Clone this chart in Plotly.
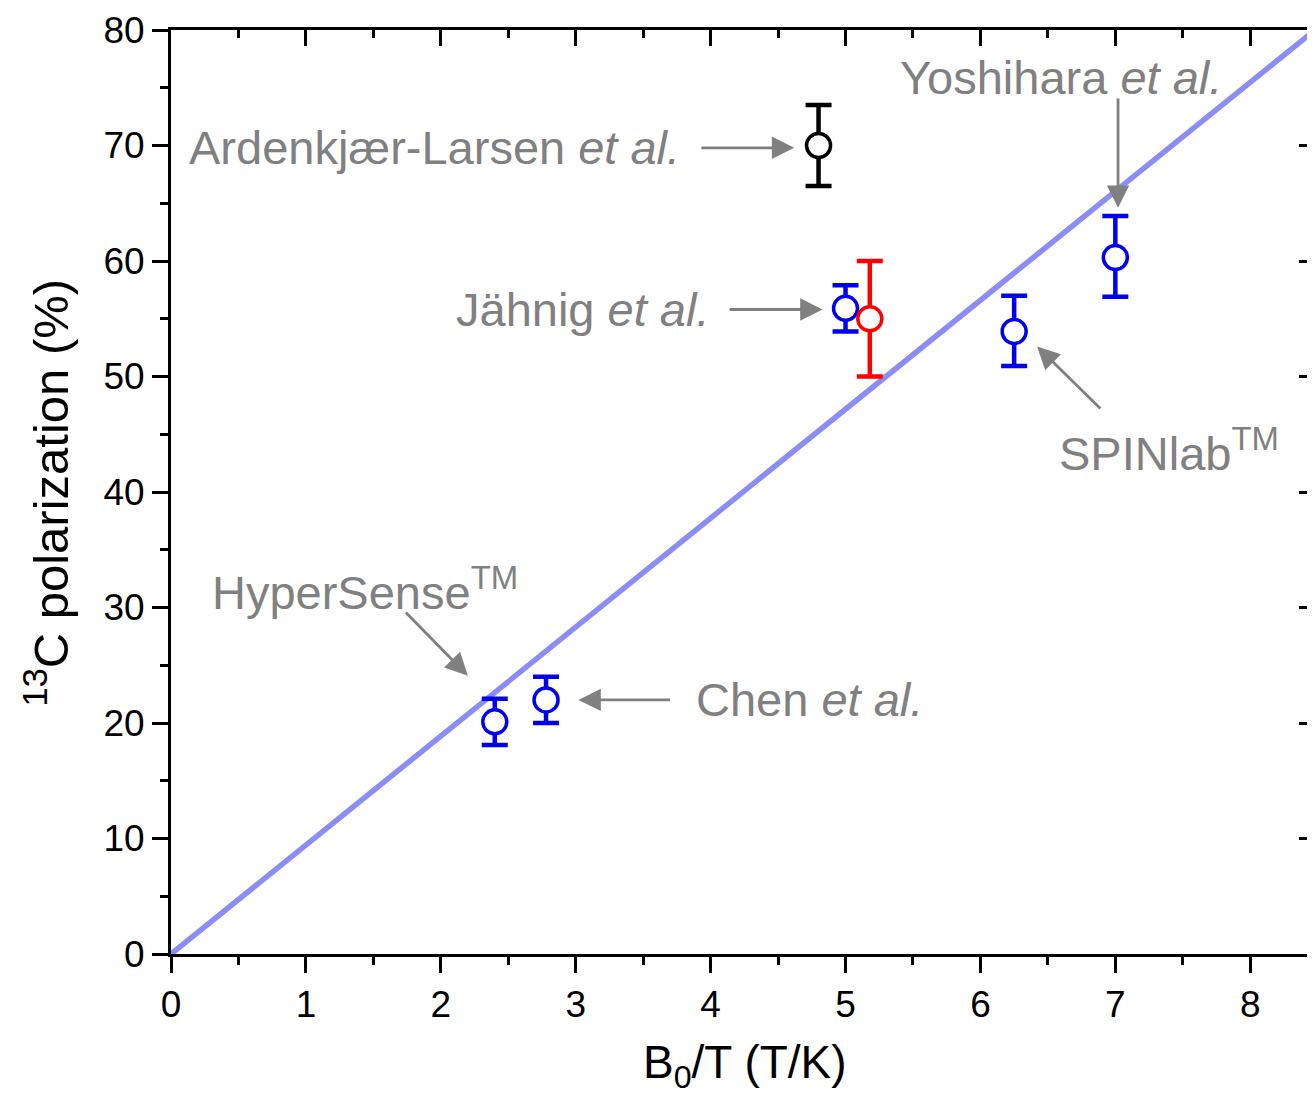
import plotly.graph_objects as go

# ---- data ----
blue_x = [2.4, 2.78, 5.0, 6.25, 7.0]
blue_y = [20.1, 22.0, 55.9, 53.9, 60.3]
blue_err_plus = [2.0, 2.0, 2.0, 3.1, 3.6]
blue_err_minus = [2.0, 2.0, 2.0, 3.0, 3.4]

black_x = [4.8]
black_y = [70.0]
black_err = [3.5]

red_x = [5.18]
red_y = [55.0]
red_err = [5.0]

line_x = [0.0, 8.48]
line_y = [0.0, 80.0]

x_ticks = [0, 1, 2, 3, 4, 5, 6, 7, 8]
y_ticks = [0, 10, 20, 30, 40, 50, 60, 70, 80]

labels = [
    ("Ardenkjær-Larsen <i>et al.</i>", 0.12, 69.8),
    ("Jähnig <i>et al.</i>", 2.10, 55.8),
    ("Yoshihara <i>et al.</i>", 5.39, 75.9),
    ("SPINlab<sup>TM</sup>", 6.57, 43.6),
    ("HyperSense<sup>TM</sup>", 0.29, 31.6),
    ("Chen <i>et al.</i>", 3.88, 22.0),
]
# arrows: (tail_x, tail_y, head_x, head_y)
arrows = [
    (3.92, 69.8, 4.62, 69.8),
    (4.13, 55.8, 4.83, 55.8),
    (7.02, 74.2, 7.02, 64.6),
    (6.90, 47.1, 6.42, 52.6),
    (1.73, 29.7, 2.20, 24.1),
    (3.71, 22.0, 3.02, 22.0),
]

x_title = "B<sub>0</sub>/T (T/K)"
y_title = "<sup>13</sup>C polarization (%)"

FONT = "Arial, Liberation Sans, sans-serif"
GRAY = "#808080"

fig = go.Figure()

fig.add_trace(go.Scatter(
    x=line_x, y=line_y, mode="lines",
    line=dict(color="rgb(140,140,245)", width=5.5),
    showlegend=False, hoverinfo="skip"))


def pts(x, y, ep, em, color):
    return go.Scatter(
        x=x, y=y, mode="markers",
        marker=dict(symbol="circle", size=24, color="white",
                    line=dict(color=color, width=3.5)),
        error_y=dict(type="data", array=ep, arrayminus=em, visible=True,
                     color=color, thickness=4.5, width=13),
        showlegend=False)


fig.add_trace(pts(blue_x, blue_y, blue_err_plus, blue_err_minus, "#0000ee"))
fig.add_trace(pts(black_x, black_y, black_err, black_err, "black"))
fig.add_trace(pts(red_x, red_y, red_err, red_err, "#ff0000"))

# dummy trace for mirrored axes
fig.add_trace(go.Scatter(x=line_x, y=line_y, xaxis="x2", yaxis="y2",
                         mode="lines", line=dict(width=0), opacity=0,
                         showlegend=False, hoverinfo="skip"))

for text, x, y in labels:
    fig.add_annotation(x=x, y=y, text=text, showarrow=False,
                       xanchor="left", yanchor="middle",
                       font=dict(family=FONT, size=47, color=GRAY))

for tx, ty, hx, hy in arrows:
    fig.add_annotation(x=hx, y=hy, ax=tx, ay=ty, axref="x", ayref="y",
                       text="", showarrow=True, arrowhead=2, arrowsize=1.6,
                       arrowwidth=2.8, arrowcolor=GRAY, standoff=0,
                       startstandoff=0)

# axis titles as annotations for precise placement
fig.add_annotation(x=0.502, y=-0.121, xref="paper", yref="paper",
                   text=x_title, showarrow=False, xanchor="center",
                   yanchor="middle", font=dict(family=FONT, size=46,
                                               color="black"))
fig.add_annotation(x=-0.108, y=0.5, xref="paper", yref="paper",
                   text=y_title, showarrow=False, textangle=-90,
                   xanchor="center", yanchor="middle",
                   font=dict(family=FONT, size=49, color="black"))

axis_common = dict(showgrid=False, zeroline=False, showline=True,
                   linecolor="black", linewidth=3, automargin=False)

fig.update_layout(
    width=1307, height=1086,
    margin=dict(l=163, r=0, t=22, b=140),
    plot_bgcolor="white", paper_bgcolor="white",
    font=dict(family=FONT, color="black"),
    xaxis=dict(range=[0, 8.48], tickvals=x_ticks, ticks="outside",
               ticklen=16, tickwidth=3, tickcolor="black",
               minor=dict(dtick=0.5, ticks="outside", ticklen=8,
                          tickwidth=3, tickcolor="black"),
               tickfont=dict(size=37),
               **axis_common),
    yaxis=dict(range=[0, 80], tickvals=y_ticks, ticks="outside",
               ticklen=16, tickwidth=3, tickcolor="black",
               minor=dict(dtick=5, ticks="outside", ticklen=8,
                          tickwidth=3, tickcolor="black"),
               tickfont=dict(size=37),
               **axis_common),
    xaxis2=dict(range=[0, 8.48], overlaying="x", side="top", anchor="y2",
                tickvals=x_ticks, ticks="inside", ticklen=16, tickwidth=3,
                tickcolor="black", showticklabels=False,
                minor=dict(dtick=0.5, ticks="inside", ticklen=8,
                           tickwidth=3, tickcolor="black"),
                **axis_common),
    yaxis2=dict(range=[0, 80], overlaying="y", side="right", anchor="x2",
                tickvals=y_ticks, ticks="inside", ticklen=16, tickwidth=3,
                tickcolor="black", showticklabels=False,
                minor=dict(dtick=5, ticks="inside", ticklen=8,
                           tickwidth=3, tickcolor="black"),
                **axis_common),
)

fig.write_html("out.html")
